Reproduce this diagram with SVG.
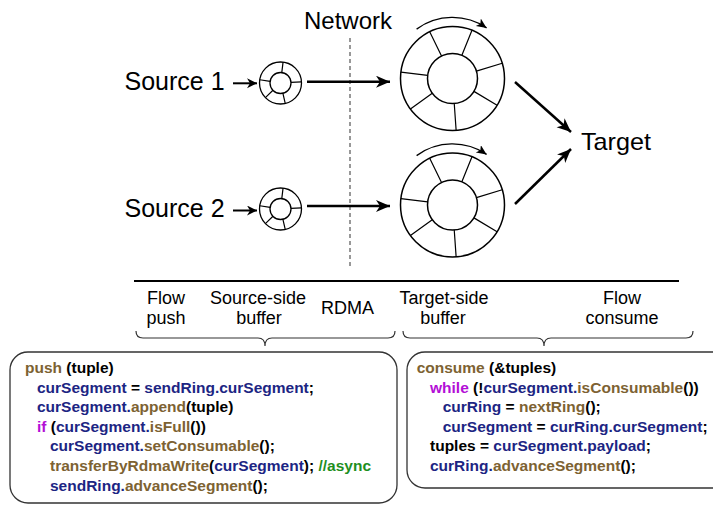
<svg xmlns="http://www.w3.org/2000/svg" width="713" height="505" viewBox="0 0 713 505">
<style>
  text { font-family: "Liberation Sans", Arial, Helvetica, sans-serif; fill: #000; }
  .big { font-size: 24px; }
  .src { font-size: 25px; }
  .lbl { font-size: 18px; }
  .code { font-size: 15.5px; font-weight: bold; }
  .kw { fill: #7d6232; }
  .id { fill: #1c2583; }
  .ctl { fill: #b30fd6; }
  .cm { fill: #1e8f1e; }
  .ring { fill: #fff; stroke: #000; stroke-width: 1.5; }
  .sp { stroke: #000; stroke-width: 1.2; fill: none; }
  .arr { stroke: #000; stroke-width: 2.5; fill: none; }
  .sarr { stroke: #000; stroke-width: 2; fill: none; }
  .rot { stroke: #000; stroke-width: 1.3; fill: none; }
  .brace { stroke: #333; stroke-width: 1.2; fill: none; }
  .box { fill: #fff; stroke: #333; stroke-width: 1.3; }
</style>
<defs>
  <marker id="ah" markerUnits="userSpaceOnUse" markerWidth="16" markerHeight="14" refX="14" refY="6" orient="auto">
    <path d="M14,6 L0,0 L4,6 L0,12 Z" fill="#000"/>
  </marker>
  <marker id="ahs" markerUnits="userSpaceOnUse" markerWidth="12" markerHeight="12" refX="10" refY="5" orient="auto">
    <path d="M10,5 L0,0 L3,5 L0,10 Z" fill="#000"/>
  </marker>
  <marker id="aht" markerUnits="userSpaceOnUse" markerWidth="12" markerHeight="12" refX="10" refY="4.5" orient="auto">
    <path d="M10,4.5 L0,0 L2.5,4.5 L0,9 Z" fill="#000"/>
  </marker>
  <g id="bigring">
    <circle class="ring" r="52"/>
    <circle class="ring" r="25"/>
    <path class="sp" d="M-10.96,-22.47L-22.80,-46.74 M9.37,-23.18L19.48,-48.21 M23.91,-7.31L49.73,-15.20 M21.43,12.88L44.57,26.78 M1.74,24.94L3.63,51.88 M-20.23,14.70L-42.07,30.57 M-24.81,-3.05L-51.61,-6.34"/>
  </g>
  <g id="smallring">
    <circle class="ring" r="21" style="stroke-width:1.3"/>
    <circle class="ring" r="10.5" style="stroke-width:1.3"/>
    <path class="sp" d="M1.28,-10.42L2.56,-20.84 M10.49,-0.55L20.97,-1.10 M2.36,10.23L4.72,20.46 M-7.55,7.29L-15.11,14.59 M-10.37,-1.64L-20.74,-3.28"/>
  </g>
</defs>

<g id="network">
  <text class="big" x="348" y="29" text-anchor="middle">Network</text>
  <line x1="350" y1="38" x2="350" y2="266" stroke="#777" stroke-width="1.5" stroke-dasharray="4 3"/>
</g>

<g id="source1">
  <text class="src" x="124.5" y="89.5">Source 1</text>
</g>
<g id="source2">
  <text class="src" x="124.5" y="216.5">Source 2</text>
</g>
<g id="sbuf1"><use href="#smallring" x="280.5" y="83"/></g>
<g id="sbuf2"><use href="#smallring" x="280.5" y="209"/></g>

<g id="tbuf1">
  <use href="#bigring" x="452.5" y="78.5"/>
  <path class="rot" d="M416.6,29.1 A61 61 0 0 1 486.6,27.9" marker-end="url(#aht)"/>
</g>
<g id="tbuf2">
  <use href="#bigring" x="452.5" y="205"/>
  <path class="rot" d="M416.6,155.6 A61 61 0 0 1 486.6,154.4" marker-end="url(#aht)"/>
</g>

<g id="target">
  <text class="big" x="581" y="149.5" textLength="70" lengthAdjust="spacingAndGlyphs">Target</text>
</g>

<g id="connectors">
  <line class="sarr" x1="233" y1="83.3" x2="257" y2="83.3" marker-end="url(#ahs)"/>
  <line class="sarr" x1="233" y1="210.5" x2="257" y2="210.5" marker-end="url(#ahs)"/>
  <line class="arr" x1="307" y1="81.7" x2="390" y2="81.7" marker-end="url(#ah)"/>
  <line class="arr" x1="307" y1="206" x2="390" y2="206" marker-end="url(#ah)"/>
  <line class="arr" x1="515" y1="82" x2="571" y2="132" marker-end="url(#ah)"/>
  <line class="arr" x1="515" y1="204" x2="571" y2="149" marker-end="url(#ah)"/>
</g>

<g id="timeline">
  <line x1="134" y1="281" x2="679" y2="281" stroke="#000" stroke-width="2"/>
  <text class="lbl" x="166" y="304" text-anchor="middle">Flow</text>
  <text class="lbl" x="166" y="324" text-anchor="middle">push</text>
  <text class="lbl" x="258" y="304" text-anchor="middle">Source-side</text>
  <text class="lbl" x="259" y="324" text-anchor="middle">buffer</text>
  <text class="lbl" x="347.5" y="314" text-anchor="middle">RDMA</text>
  <text class="lbl" x="444" y="304" text-anchor="middle">Target-side</text>
  <text class="lbl" x="443" y="324" text-anchor="middle">buffer</text>
  <text class="lbl" x="622" y="304" text-anchor="middle">Flow</text>
  <text class="lbl" x="622" y="324" text-anchor="middle">consume</text>
  <path class="brace" d="M136,331 Q136,338 143,338 L258,338 Q265,338 265,346 Q265,338 272,338 L388,338 Q395,338 395,331"/>
  <path class="brace" d="M403,331 Q403,338 410,338 L537,338 Q544,338 544,346 Q544,338 551,338 L686,338 Q693,338 693,331"/>
</g>

<g id="pushcode">
  <rect class="box" x="10" y="352" width="387" height="151" rx="18"/>
  <text class="code" x="25" y="373.3"><tspan class="kw">push</tspan> (tuple)</text>
  <text class="code" x="37" y="393.3"><tspan class="id">curSegment</tspan> = <tspan class="id">sendRing.curSegment</tspan>;</text>
  <text class="code" x="37" y="412.3"><tspan class="id">curSegment.</tspan><tspan class="kw">append</tspan>(tuple)</text>
  <text class="code" x="37" y="431.5"><tspan class="ctl">if</tspan> (<tspan class="id">curSegment.</tspan><tspan class="kw">isFull</tspan>())</text>
  <text class="code" x="50" y="451"><tspan class="id">curSegment.</tspan><tspan class="kw">setConsumable</tspan>();</text>
  <text class="code" x="50" y="471"><tspan class="kw">transferByRdmaWrite</tspan>(<tspan class="id">curSegment</tspan>); <tspan class="cm">//async</tspan></text>
  <text class="code" x="50" y="491"><tspan class="id">sendRing.</tspan><tspan class="kw">advanceSegment</tspan>();</text>
</g>

<g id="consumecode">
  <rect class="box" x="407" y="352" width="330" height="136" rx="18"/>
  <text class="code" x="416.7" y="373.3"><tspan class="kw">consume</tspan> (&amp;tuples)</text>
  <text class="code" x="430" y="393.3"><tspan class="ctl">while</tspan> (!<tspan class="id">curSegment.</tspan><tspan class="kw">isConsumable</tspan>())</text>
  <text class="code" x="442.7" y="412.3"><tspan class="id">curRing</tspan> = <tspan class="kw">nextRing</tspan>();</text>
  <text class="code" x="442.7" y="431.5"><tspan class="id">curSegment</tspan> = <tspan class="id">curRing.curSegment</tspan>;</text>
  <text class="code" x="430" y="451">tuples = <tspan class="id">curSegment.payload</tspan>;</text>
  <text class="code" x="430" y="471"><tspan class="id">curRing.</tspan><tspan class="kw">advanceSegment</tspan>();</text>
</g>
</svg>
